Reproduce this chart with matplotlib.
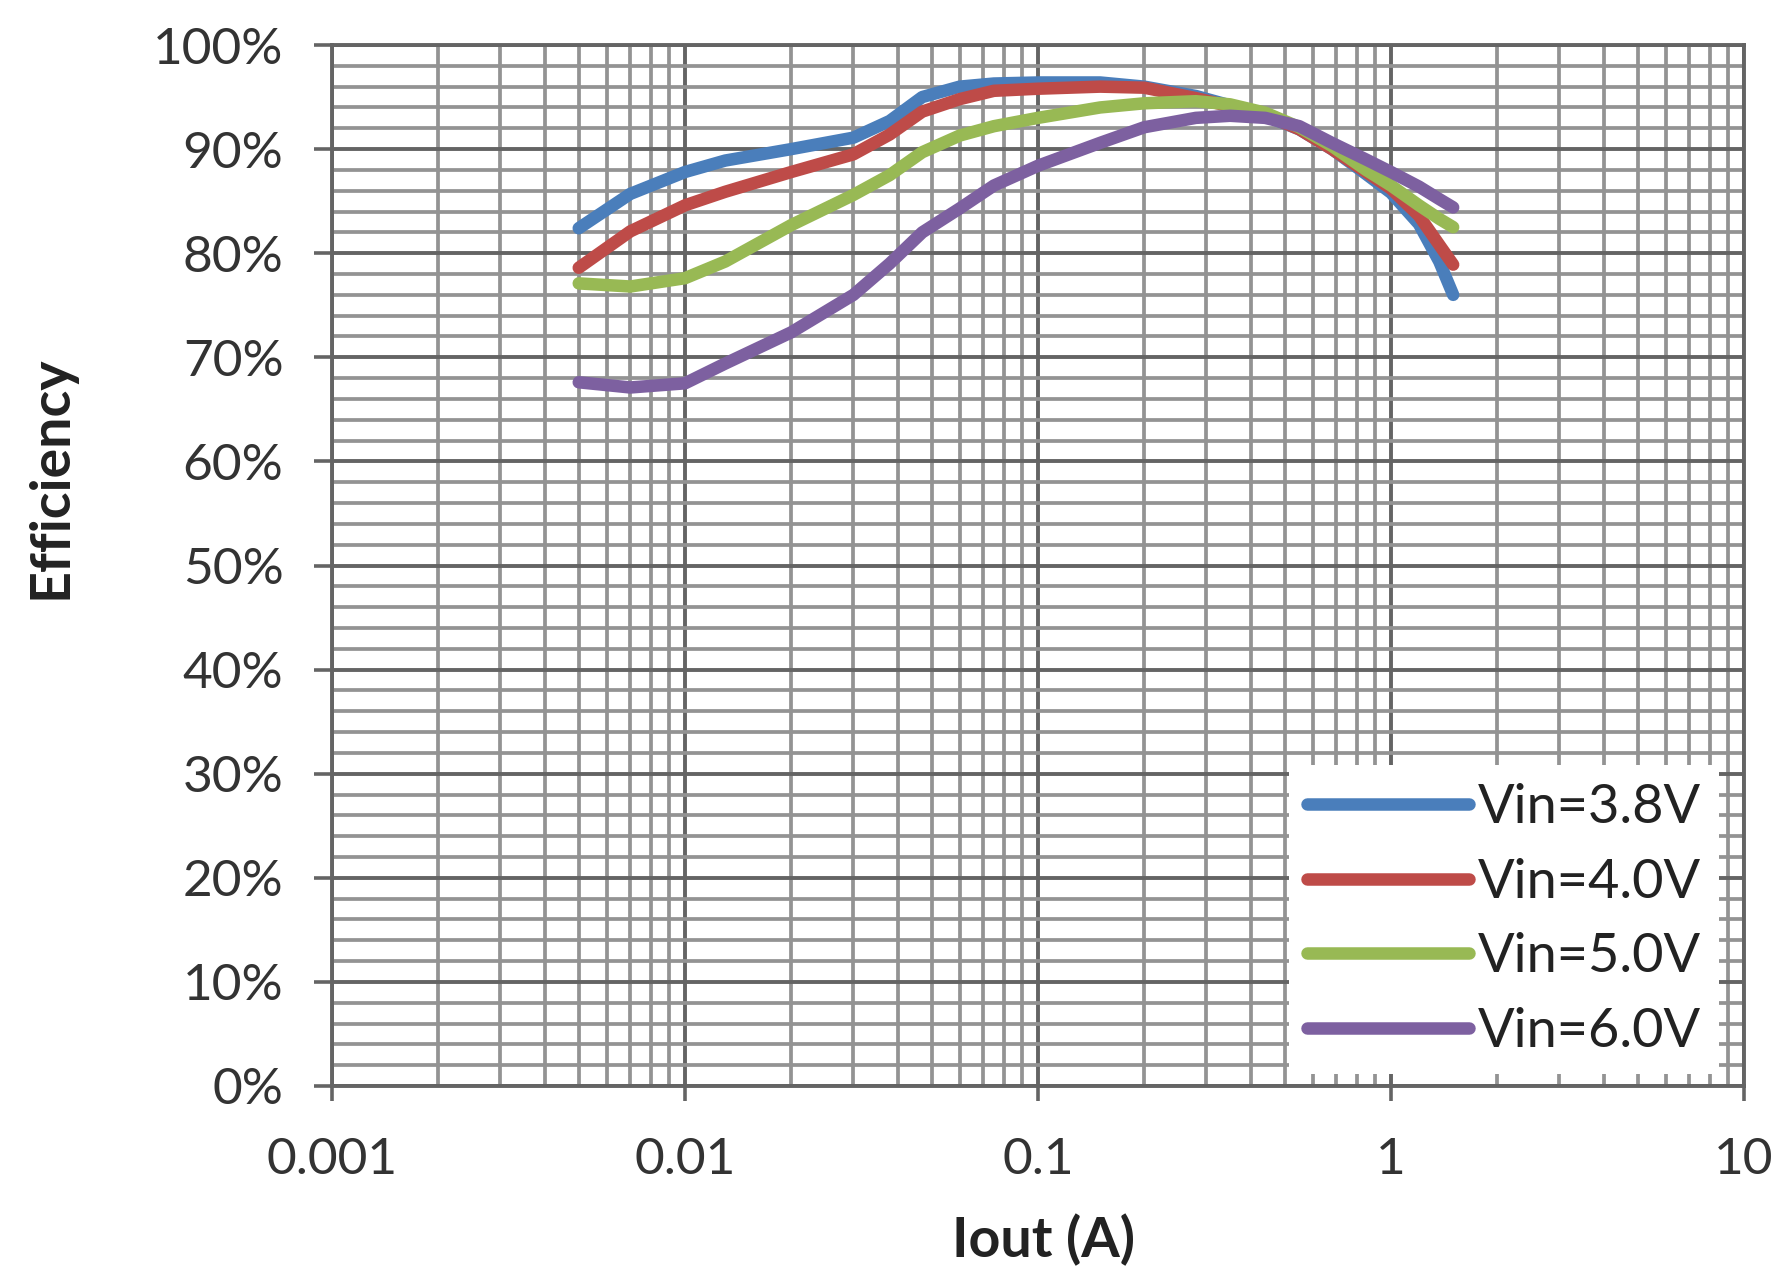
import matplotlib
matplotlib.use("Agg")
import matplotlib.pyplot as plt
from matplotlib.ticker import FixedLocator, LogLocator, NullFormatter, FixedFormatter

# ---- data ----
iout = [0.005, 0.007, 0.01, 0.013, 0.02, 0.03, 0.038, 0.047, 0.06, 0.075, 0.1,
        0.15, 0.2, 0.28, 0.35, 0.44, 0.55, 0.68, 0.85, 1.0, 1.2, 1.37, 1.5]

eff_38 = [82.4, 85.7, 87.8, 88.9, 90.0, 91.1, 92.7, 95.0, 96.0, 96.3, 96.4,
          96.4, 96.0, 95.1, 94.2, 93.2, 91.9, 90.0, 87.6, 85.8, 82.8, 79.2, 76.0]
eff_40 = [78.6, 82.1, 84.6, 85.9, 87.8, 89.5, 91.4, 93.6, 94.8, 95.6, 95.8,
          96.0, 95.9, 94.9, 94.1, 93.3, 91.9, 90.0, 87.8, 86.2, 83.6, 80.8, 78.9]
eff_50 = [77.1, 76.8, 77.6, 79.2, 82.7, 85.6, 87.5, 89.7, 91.3, 92.2, 93.0,
          94.0, 94.4, 94.6, 94.3, 93.5, 92.1, 90.3, 88.0, 86.5, 84.6, 83.3, 82.5]
eff_60 = [67.6, 67.1, 67.5, 69.4, 72.4, 76.0, 79.0, 82.0, 84.3, 86.5, 88.4,
          90.6, 92.1, 93.0, 93.2, 93.0, 92.2, 90.6, 89.0, 87.8, 86.4, 85.2, 84.4]

series_labels = ["Vin=3.8V", "Vin=4.0V", "Vin=5.0V", "Vin=6.0V"]
series_colors = ["#4A7EBB", "#BE4B48", "#98B954", "#7D60A0"]

x_ticks = [0.001, 0.01, 0.1, 1, 10]
x_tick_labels = ["0.001", "0.01", "0.1", "1", "10"]
y_ticks = [0, 10, 20, 30, 40, 50, 60, 70, 80, 90, 100]
y_tick_labels = [f"{v}%" for v in y_ticks]

# ---- figure ----
plt.rcParams['font.family'] = ['Lato', 'DejaVu Sans']
W, H = 1779, 1284
fig = plt.figure(figsize=(W / 100, H / 100), dpi=100)
ax = fig.add_axes([332 / W, 1 - 1086 / H, (1744 - 332) / W, (1086 - 45) / H])

ax.set_xscale('log')
ax.set_xlim(0.001, 10)
ax.set_ylim(0, 100)

# grid
ax.xaxis.set_major_locator(FixedLocator(x_ticks))
ax.xaxis.set_major_formatter(FixedFormatter(x_tick_labels))
ax.xaxis.set_minor_locator(LogLocator(base=10, subs=range(2, 10), numticks=20))
ax.xaxis.set_minor_formatter(NullFormatter())
ax.yaxis.set_major_locator(FixedLocator(y_ticks))
ax.yaxis.set_major_formatter(FixedFormatter(y_tick_labels))
ax.yaxis.set_minor_locator(FixedLocator([v for v in range(0, 101, 2) if v % 10]))

ax.grid(which='minor', color='#939393', linewidth=2.7, zorder=0)
ax.grid(which='major', color='#646464', linewidth=2.8, zorder=0)
ax.set_axisbelow(True)

for s in ax.spines.values():
    s.set_color('#646464')
    s.set_linewidth(2.8)

ax.tick_params(which='minor', length=0)
ax.tick_params(axis='x', which='major', direction='out', length=11, width=2.6,
               color='#646464', pad=26, labelsize=37, labelcolor='#333333')
ax.tick_params(axis='y', which='major', direction='out', length=13, width=2.6,
               color='#646464', pad=22, labelsize=37, labelcolor='#333333')

for y, lab, col in zip([eff_38, eff_40, eff_50, eff_60], series_labels, series_colors):
    ax.plot(iout, y, color=col, linewidth=9, label=lab,
            solid_capstyle='round', solid_joinstyle='round', zorder=3)

leg = ax.legend(loc='lower right', bbox_to_anchor=(0.982, 0.012), fontsize=39,
                frameon=True, fancybox=False, framealpha=1, facecolor='white',
                edgecolor='none', handlelength=3.0, handletextpad=0.15,
                labelspacing=0.47, borderpad=0.33, borderaxespad=0)
for t in leg.get_texts():
    t.set_color('#222222')

fig.text(51 / W, 1 - 477 / H, "Efficiency", rotation=90, ha='center', va='center',
         fontsize=40, fontweight='bold', color='#222222')
fig.text(1043 / W, 1 - 1240 / H, "Iout (A)", ha='center', va='center',
         fontsize=40, fontweight='bold', color='#222222')

fig.savefig("out.png", dpi=100, facecolor='white')
